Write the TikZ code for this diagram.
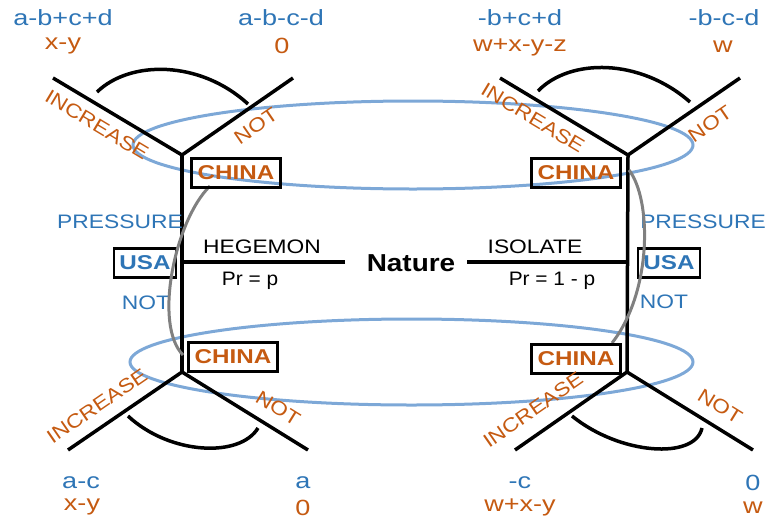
\documentclass[tikz,border=0pt]{standalone}
\usepackage{fontspec}
\setmainfont{Liberation Sans}
\definecolor{payblue}{RGB}{46,117,182}
\definecolor{payorange}{RGB}{197,90,17}
\definecolor{ringblue}{RGB}{125,168,215}
\definecolor{linkgray}{RGB}{128,128,128}
\newcommand{\payfont}{\fontsize{22}{24}\selectfont\addfontfeature{FakeStretch=1.23}}
\newcommand{\movefont}{\fontsize{19.5}{22}\selectfont\addfontfeature{FakeStretch=1.17}}
\newcommand{\probfont}{\fontsize{19.5}{22}\selectfont\addfontfeature{FakeStretch=1.07}}
\newcommand{\boxfont}{\bfseries\fontsize{20}{22}\selectfont\addfontfeature{FakeStretch=1.21}}
\newcommand{\naturefont}{\bfseries\fontsize{24.5}{27}\selectfont\addfontfeature{FakeStretch=1.14}}
\tikzset{
  branch/.style={line width=3.5pt, black, line cap=butt},
  infoset/.style={line width=3pt, ringblue},
  linkcurve/.style={line width=3pt, linkgray},
  choicearc/.style={line width=3.5pt, black},
  payA/.style={text=payblue, font=\payfont, inner sep=0pt},
  payB/.style={text=payorange, font=\payfont, inner sep=0pt},
  movelabel/.style={text=payorange, font=\movefont, inner sep=0pt},
  usamove/.style={text=payblue, font=\movefont, inner sep=0pt},
  naturemove/.style={text=black, font=\movefont, inner sep=0pt},
  problabel/.style={text=black, font=\probfont, inner sep=0pt},
  chinabox/.style={draw=black, line width=2.2pt, text=payorange,
    font=\boxfont, minimum width=89pt, minimum height=29pt, inner sep=0pt},
  usabox/.style={draw=black, line width=2.2pt, text=payblue,
    font=\boxfont, minimum width=62pt, minimum height=29pt, inner sep=0pt},
}
\begin{document}
\begin{tikzpicture}[x=1pt, y=-1pt]
\useasboundingbox (0,0) rectangle (770,525);

% information sets of China
\draw[infoset] (413,145) ellipse [x radius=280, y radius=44];
\draw[infoset] (411.5,362) ellipse [x radius=281.5, y radius=43];

% decision vertices
\coordinate (usaL) at (183,262);
\coordinate (usaR) at (628,262);
\coordinate (cTL) at (182,155);
\coordinate (cBL) at (182,372);
\coordinate (cTR) at (628,155);
\coordinate (cBR) at (627,372);
\coordinate (natL) at (345,262);
\coordinate (natR) at (467,262);

% terminal vertices
\coordinate (tTL1) at (53,78);
\coordinate (tTL2) at (293,78);
\coordinate (tTR1) at (500,78);
\coordinate (tTR2) at (740,78);
\coordinate (tBL1) at (68,450);
\coordinate (tBL2) at (308,450);
\coordinate (tBR1) at (515,450);
\coordinate (tBR2) at (753,450);

% Nature
\node[font=\naturefont, inner sep=0pt] (nature) at (411,263) {Nature};
\draw[branch] (natL) -- (usaL);
\draw[branch] (natR) -- (usaR);
\node[naturemove] (hegemon) at (262,247) {HEGEMON};
\node[problabel] (prp) at (250,281) {Pr = p};
\node[naturemove] (isolate) at (535,247) {ISOLATE};
\node[problabel] (prq) at (552,281) {Pr = 1 - p};

% USA moves
\draw[branch] (cTL) -- (cBL);
\draw[branch] (cTR) -- (cBR);
\node[usabox] (usaLbox) at (145,263) {USA};
\node[usabox] (usaRbox) at (669,263) {USA};
\node[usamove] (presL) at (120,222) {PRESSURE};
\node[usamove] (notL) at (146,303) {NOT};
\node[usamove] (presR) at (703,222) {PRESSURE};
\node[usamove] (notR) at (664,302) {NOT};

% links between the China nodes
\draw[linkcurve] (210,186) .. controls (175,220) and (153,325) .. (183,355);
\draw[linkcurve] (629,170) .. controls (652,200) and (652,292) .. (612,343);

% China moves
\draw[branch] (tTL1) -- (cTL) -- (tTL2);
\draw[branch] (tTR1) -- (cTR) -- (tTR2);
\draw[branch] (tBL1) -- (cBL) -- (tBL2);
\draw[branch] (tBR1) -- (cBR) -- (tBR2);

\draw[choicearc] (97,92) .. controls (130,60) and (200,60) .. (248,104);
\draw[choicearc] (538,91) .. controls (570,58) and (640,58) .. (690,102);
\draw[choicearc] (128,416) .. controls (170,455) and (240,458) .. (258,428);
\draw[choicearc] (572,416) .. controls (620,455) and (695,460) .. (702,428);

\node[chinabox] (chinaTL) at (236,173) {CHINA};
\node[chinabox] (chinaTR) at (576,173) {CHINA};
\node[chinabox] (chinaBL) at (233,357) {CHINA};
\node[chinabox] (chinaBR) at (576,359) {CHINA};

\node[movelabel, rotate=-31] (incTL) at (97,125) {INCREASE};
\node[movelabel, rotate=34.5] (notTL) at (256,126) {NOT};
\node[movelabel, rotate=-31] (incTR) at (533,118) {INCREASE};
\node[movelabel, rotate=34.5] (notTR) at (710,124) {NOT};
\node[movelabel, rotate=34.5] (incBL) at (97,406) {INCREASE};
\node[movelabel, rotate=-31.8] (notBL) at (278,408) {NOT};
\node[movelabel, rotate=34.9] (incBR) at (533,410) {INCREASE};
\node[movelabel, rotate=-31.8] (notBR) at (720,406) {NOT};

% payoffs
\node[payA] (pa1) at (63,18) {a-b+c+d};
\node[payB] (pb1) at (63,46) {x-y};
\node[payA] (pa2) at (281,18) {a-b-c-d};
\node[payB] (pb2) at (282,46) {0};
\node[payA] (pa3) at (520,18) {-b+c+d};
\node[payB] (pb3) at (520,47) {w+x-y-z};
\node[payA] (pa4) at (724,18) {-b-c-d};
\node[payB] (pb4) at (723,47) {w};
\node[payA] (pa5) at (81,483) {a-c};
\node[payB] (pb5) at (82,507) {x-y};
\node[payA] (pa6) at (303,483) {a};
\node[payB] (pb6) at (303,508) {0};
\node[payA] (pa7) at (520,483) {-c};
\node[payB] (pb7) at (520,507) {w+x-y};
\node[payA] (pa8) at (753,483) {0};
\node[payB] (pb8) at (753,508) {w};
\end{tikzpicture}
\end{document}
